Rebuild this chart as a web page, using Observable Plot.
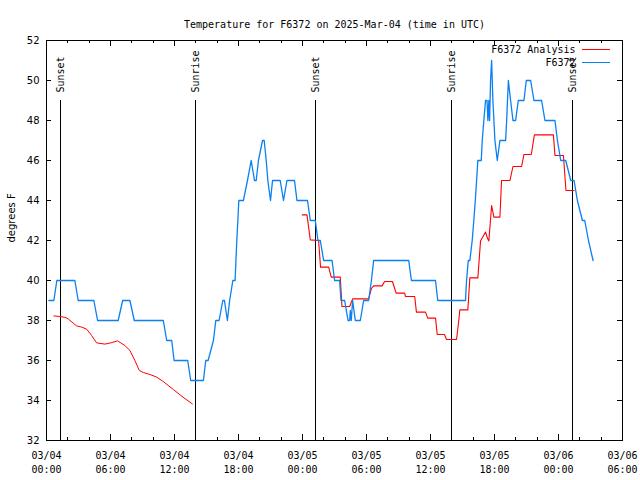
<!DOCTYPE html>
<html>
<head>
<meta charset="utf-8">
<script src="https://cdn.jsdelivr.net/npm/d3@7"></script>
<script src="https://cdn.jsdelivr.net/npm/@observablehq/plot@0.6"></script>
<style>
  html, body { margin: 0; padding: 0; background: white; }
</style>
</head>
<body>
<div id="chart"></div>
<script>
// ---- Data (hours since 2025-03-04 00:00 UTC) ----
const titleText = "Temperature for F6372 on 2025-Mar-04 (time in UTC)";
const yLabelText = "degrees F";
const seriesNames = ["F6372 Analysis", "F6372"];

// Observations (F6372)
const obsHours = [0.22,0.69,0.97,2.66,2.97,4.44,4.79,6.72,7.14,7.82,8.23,10.95,11.27,11.74,11.96,13.24,13.52,14.71,14.93,15.15,15.65,15.87,16.18,16.53,16.68,16.96,17.17,17.47,17.68,17.84,17.94,18.03,18.46,18.84,19.19,19.5,19.66,19.87,20.25,20.41,20.6,20.75,21.0,21.19,21.91,22.22,22.54,23.25,23.48,24.47,24.73,25.2,25.45,25.67,25.98,26.77,27.01,27.48,27.61,27.95,28.27,28.42,28.48,28.57,28.7,28.95,29.42,29.73,30.2,30.46,30.67,33.96,34.21,36.47,36.68,39.28,39.38,39.54,39.69,39.91,40.06,40.2,40.32,40.44,40.76,40.85,41.0,41.16,41.3,41.38,41.47,41.54,41.63,41.73,41.85,42.04,42.26,42.51,43.04,43.14,43.3,43.51,43.73,43.98,44.23,44.76,44.98,45.39,45.7,46.42,46.73,47.67,47.9,48.21,48.68,49.15,49.46,49.77,50.24,50.46,50.81,51.24];
const obsTemps = [39,39,40,40,39,39,38,38,39,39,38,38,37,37,36,36,35,35,36,36,37,38,38,39,39,38,39,40,40,42,43,44,44,45,46,45,45,46,47,47,46,45,44,45,45,44,45,45,44,44,43,43,42,42,41,41,40,40,39,39,38,38,38.5,38,39,38,38,39,39,40,41,41,40,40,39,39,40,41,41,42,43,44,45,46,46,47,48,49,49,48,49,48,50,51,49,47,46,47,47,48,50,49,48,48,49,49,50,50,49,49,48,48,47,46,46,45,45,44,43,43,42,41];

// Analysis (F6372 Analysis) - two separate stretches
const anaHoursA = [0.69,1.25,1.81,2.03,2.5,2.82,3.29,3.76,4.23,4.7,5.48,5.94,6.67,7.35,7.82,8.29,8.7,9.07,9.7,10.33,10.89,11.89,12.89,13.67];
const anaTempsA = [38.23,38.2,38.15,38.08,37.87,37.73,37.67,37.57,37.25,36.88,36.82,36.87,36.98,36.75,36.5,36.0,35.5,35.4,35.3,35.17,34.97,34.55,34.13,33.83];
const anaHoursB = [23.98,24.42,24.73,25.51,25.69,26.45,26.7,27.54,27.7,28.42,28.7,30.2,30.46,30.67,31.46,31.7,32.43,32.64,32.78,33.58,33.65,34.52,34.68,35.53,35.74,36.47,36.63,37.31,37.5,38.44,38.65,38.75,39.5,39.69,40.44,40.69,41.16,41.35,41.47,41.73,41.94,42.51,42.66,43.45,43.73,44.54,44.76,45.45,45.74,47.52,47.67,48.46,48.7,49.46];
const anaTempsB = [43.28,43.28,42.03,42.0,40.67,40.67,40.17,40.17,38.7,38.7,39.08,39.08,39.6,39.73,39.73,39.95,39.95,39.6,39.37,39.37,39.2,39.2,38.42,38.42,38.12,38.12,37.3,37.3,37.05,37.05,38.0,38.53,38.53,40.13,40.13,41.97,42.42,42.1,41.98,43.75,43.17,43.17,45.0,45.0,45.7,45.7,46.3,46.3,47.28,47.28,46.25,46.25,44.5,44.5];

// Sun events
const eventHours = [1.3, 14.0, 25.25, 38.0, 49.3];
const eventLabels = ["Sunset", "Sunrise", "Sunset", "Sunrise", "Sunset"];

// Axis ticks
const xMajorHours = [0, 6, 12, 18, 24, 30, 36, 42, 48, 54];
const xDateLabels = ["03/04","03/04","03/04","03/04","03/05","03/05","03/05","03/05","03/06","03/06"];
const xTimeLabels = ["00:00","06:00","12:00","18:00","00:00","06:00","12:00","18:00","00:00","06:00"];
const xAllTickHours = d3.range(0, 55, 2);
const yTicks = [32, 34, 36, 38, 40, 42, 44, 46, 48, 50, 52];

// ---- Layout ----
const W = 640, H = 480, ML = 46, MR = 18, MT = 40, MB = 40;
const X0 = 0, X1 = 54, Y0 = 32, Y1 = 52;
const degPerPx = (Y1 - Y0) / (H - MT - MB);
const hPerPx = (X1 - X0) / (W - ML - MR);
const RED = "#ff0000", BLUE = "#0a80f2";
const SANS = "DejaVu Sans";

const obs = obsHours.map((h, i) => ({h, t: obsTemps[i]}));
const anaA = anaHoursA.map((h, i) => ({h, t: anaTempsA[i]}));
const anaB = anaHoursB.map((h, i) => ({h, t: anaTempsB[i]}));
const events = eventHours.map((h, i) => ({h, label: eventLabels[i]}));
const majors = xMajorHours.map((h, i) => ({h, date: xDateLabels[i], time: xTimeLabels[i]}));
const tickLen = h => (h % 6 === 0 ? 6 : 3);

const legendRows = seriesNames.map((name, i) => ({
  name,
  color: i === 0 ? RED : BLUE,
  y: Y1 - (9 + 13 * i) * degPerPx,
  x1: X1 - 40 * hPerPx,
  x2: X1 - 12 * hPerPx
}));

const crisp = {shapeRendering: "crispEdges"};

const chart = Plot.plot({
  width: W, height: H,
  marginLeft: ML, marginRight: MR, marginTop: MT, marginBottom: MB,
  style: {fontFamily: "DejaVu Sans Mono", fontSize: "10px", background: "white", color: "black"},
  x: {domain: [X0, X1], axis: null},
  y: {domain: [Y0, Y1], axis: null},
  marks: [
    // sun event lines and labels
    Plot.ruleX(events, {x: "h", y1: Y0, y2: 49, stroke: "black", strokeWidth: 1, ...crisp}),
    Plot.text(events, {x: "h", y: 49.4, text: "label", rotate: -90, textAnchor: "start", lineAnchor: "middle", fill: "black"}),
    // data lines
    Plot.line(anaA, {x: "h", y: "t", stroke: RED, strokeWidth: 1}),
    Plot.line(anaB, {x: "h", y: "t", stroke: RED, strokeWidth: 1.1}),
    Plot.line(obs, {x: "h", y: "t", stroke: BLUE, strokeWidth: 1.3}),
    // ticks (inward, mirrored)
    Plot.ruleX(xAllTickHours, {x: d => d, y1: Y0, y2: d => Y0 + tickLen(d) * degPerPx, stroke: "black", ...crisp}),
    Plot.ruleX(xAllTickHours, {x: d => d, y1: d => Y1 - tickLen(d) * degPerPx, y2: Y1, stroke: "black", ...crisp}),
    Plot.ruleY(yTicks, {y: d => d, x1: X0, x2: X0 + 5 * hPerPx, stroke: "black", ...crisp}),
    Plot.ruleY(yTicks, {y: d => d, x1: X1 - 5 * hPerPx, x2: X1, stroke: "black", ...crisp}),
    Plot.frame({stroke: "black", ...crisp}),
    // tick labels
    Plot.text(yTicks, {x: X0, y: d => d, dx: -7, textAnchor: "end", text: d => String(d), fill: "black", fontFamily: SANS}),
    Plot.text(majors, {x: "h", y: Y0, dy: 15, text: "date", fill: "black"}),
    Plot.text(majors, {x: "h", y: Y0, dy: 29, text: "time", fill: "black"}),
    // legend
    Plot.text(legendRows, {x: X1, y: "y", dx: -47, text: "name", textAnchor: "end", fill: "black"}),
    Plot.ruleY(legendRows, {y: "y", x1: "x1", x2: "x2", stroke: "color", strokeWidth: 1, ...crisp}),
    // title and y label
    Plot.text([titleText], {frameAnchor: "top", dy: -20, fill: "black"}),
    Plot.text([yLabelText], {frameAnchor: "left", dx: -35, dy: 2, rotate: -90, fill: "black", fontFamily: SANS})
  ]
});

document.getElementById("chart").appendChild(chart);
</script>
</body>
</html>
